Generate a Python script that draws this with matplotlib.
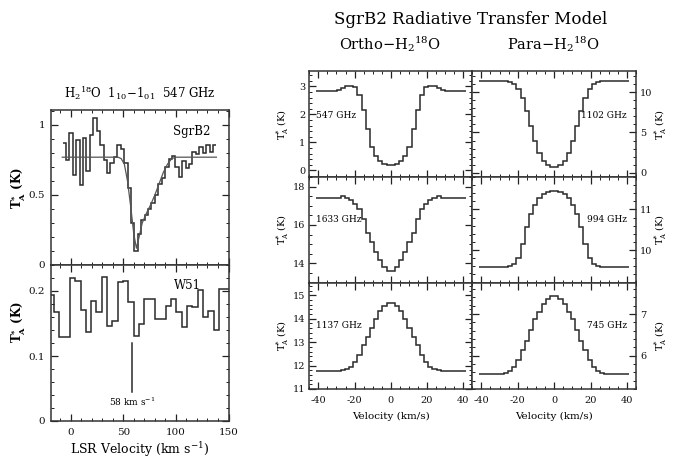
import numpy as np
import matplotlib
matplotlib.use('Agg')
import matplotlib.pyplot as plt
from matplotlib.ticker import MultipleLocator, FuncFormatter

plt.rcParams['font.family'] = ['DejaVu Serif']
plt.rcParams['mathtext.fontset'] = 'dejavuserif'

# ---------------- data ----------------
# SgrB2 observed spectrum (547 GHz), channel centres (km/s) and T_A* (K)
sgrb2_velocity = [-6.1, -2.85, 0.4, 3.65, 6.9, 10.15, 13.4, 16.65, 19.9, 23.15, 26.4, 29.65,
                  32.9, 36.15, 39.4, 42.65, 45.9, 49.15, 52.4, 55.65, 58.9, 62.15, 65.4, 68.65,
                  71.9, 75.15, 78.4, 81.65, 84.9, 88.15, 91.4, 94.65, 97.9, 101.15, 104.4, 107.65,
                  110.9, 114.15, 117.4, 120.65, 123.9, 127.15, 130.4, 133.65, 136.9]
sgrb2_temp = [0.87, 0.75, 0.94, 0.64, 0.89, 0.57, 0.91, 0.67, 0.93, 1.05, 0.96, 0.86,
              0.75, 0.655, 0.73, 0.77, 0.86, 0.83, 0.73, 0.55, 0.30, 0.10, 0.22, 0.32,
              0.36, 0.40, 0.44, 0.50, 0.58, 0.62, 0.70, 0.76, 0.78, 0.70, 0.63, 0.74,
              0.69, 0.72, 0.81, 0.79, 0.84, 0.80, 0.86, 0.81, 0.86]
sgrb2_chan = 3.25

# SgrB2 fitted profile
fit_velocity = [-8, 45, 48, 51, 54, 57, 60, 62.5, 65, 68, 72, 76, 80, 84, 88, 92, 96, 100, 138.5]
fit_temp = [0.77, 0.77, 0.76, 0.72, 0.60, 0.42, 0.22, 0.12, 0.20, 0.30, 0.37, 0.43, 0.50,
            0.58, 0.66, 0.72, 0.76, 0.77, 0.77]

# W51 spectrum
w51_velocity = [-18.5, -13.44, -8.38, -3.32, 1.74, 6.8, 11.86, 16.92, 21.98, 27.04, 32.1, 37.16,
                42.22, 47.28, 52.34, 57.4, 62.46, 67.52, 72.58, 77.64, 82.7, 87.76, 92.82, 97.88,
                102.94, 108.0, 113.06, 118.12, 123.18, 128.24, 133.3, 138.36, 143.42, 148.48]
w51_temp = [0.194, 0.168, 0.129, 0.129, 0.22, 0.216, 0.171, 0.137, 0.184, 0.167, 0.221, 0.146,
            0.154, 0.214, 0.215, 0.183, 0.131, 0.149, 0.188, 0.187, 0.157, 0.157, 0.177, 0.187,
            0.168, 0.144, 0.177, 0.175, 0.2015, 0.16, 0.17, 0.14, 0.2026, 0.2026]
w51_chan = 5.06
marker_velocity = 58
marker_range = (0.045, 0.12)

# Radiative transfer model spectra: channel edges (km/s) and T_A* (K)
model_edges = [-41.4, -39.1, -36.8, -34.5, -32.2, -29.9, -27.6, -25.3, -23.0, -20.7, -18.4, -16.1,
               -13.8, -11.5, -9.2, -6.9, -4.6, -2.3, 0.0, 2.3, 4.6, 6.9, 9.2, 11.5, 13.8, 16.1,
               18.4, 20.7, 23.0, 25.3, 27.6, 29.9, 32.2, 34.5, 36.8, 39.1, 41.4]
t547 = [2.83, 2.83, 2.83, 2.83, 2.84, 2.87, 2.93, 3.00, 3.02, 2.98, 2.69, 2.15, 1.46, 0.84, 0.51, 0.34, 0.24, 0.20,
        0.20, 0.24, 0.34, 0.51, 0.84, 1.46, 2.15, 2.69, 2.98, 3.02, 3.00, 2.93, 2.87, 2.84, 2.83, 2.83, 2.83, 2.83]
t1102 = [11.4, 11.4, 11.4, 11.4, 11.4, 11.4, 11.38, 11.3, 11.0, 10.4, 9.3, 7.6, 5.8, 3.9, 2.5, 1.5, 1.0, 0.78,
         0.78, 1.0, 1.5, 2.5, 3.9, 5.8, 7.6, 9.3, 10.4, 11.0, 11.3, 11.38, 11.4, 11.4, 11.4, 11.4, 11.4, 11.4]
t1633 = [17.39, 17.39, 17.39, 17.39, 17.39, 17.43, 17.5, 17.42, 17.3, 17.1, 16.85, 16.3, 15.6, 15.1, 14.6, 14.17, 13.82, 13.62,
         13.62, 13.82, 14.17, 14.6, 15.1, 15.6, 16.3, 16.85, 17.1, 17.3, 17.42, 17.5, 17.43, 17.39, 17.39, 17.39, 17.39, 17.39]
t994 = [9.57, 9.57, 9.57, 9.57, 9.57, 9.57, 9.58, 9.6, 9.66, 9.8, 10.16, 10.57, 10.9, 11.12, 11.28, 11.38, 11.44, 11.46,
        11.46, 11.44, 11.38, 11.28, 11.12, 10.9, 10.57, 10.16, 9.8, 9.66, 9.6, 9.58, 9.57, 9.57, 9.57, 9.57, 9.57, 9.57]
t1137 = [11.79, 11.79, 11.79, 11.79, 11.79, 11.79, 11.81, 11.86, 11.96, 12.14, 12.47, 12.86, 13.24, 13.62, 14.0, 14.33, 14.53, 14.69,
         14.69, 14.53, 14.33, 14.0, 13.62, 13.24, 12.86, 12.47, 12.14, 11.96, 11.86, 11.81, 11.79, 11.79, 11.79, 11.79, 11.79, 11.79]
t745 = [5.56, 5.56, 5.56, 5.56, 5.56, 5.56, 5.58, 5.63, 5.73, 5.89, 6.14, 6.36, 6.62, 6.88, 7.06, 7.25, 7.37, 7.44,
        7.44, 7.37, 7.25, 7.06, 6.88, 6.62, 6.36, 6.14, 5.89, 5.73, 5.63, 5.58, 5.56, 5.56, 5.56, 5.56, 5.56, 5.56]

# ---------------- figure ----------------
W, H = 673, 459
fig = plt.figure(figsize=(W / 100, H / 100), dpi=100)
LINE = '#2a2a2a'
gfmt = FuncFormatter(lambda v, p: '%g' % v)


def ax_px(x0, y0, x1, y1):
    return fig.add_axes([x0 / W, 1 - y1 / H, (x1 - x0) / W, (y1 - y0) / H])


def style(ax, xmaj, xmin, ymaj, ymin, size=7.5, pad=4):
    ax.xaxis.set_major_locator(MultipleLocator(xmaj))
    ax.xaxis.set_minor_locator(MultipleLocator(xmin))
    ax.yaxis.set_major_locator(MultipleLocator(ymaj))
    ax.yaxis.set_minor_locator(MultipleLocator(ymin))
    ax.xaxis.set_major_formatter(gfmt)
    ax.yaxis.set_major_formatter(gfmt)
    ax.tick_params(which='both', direction='in', top=True, right=True, labelsize=size,
                   color='#222222', labelcolor='#111111')
    ax.tick_params(which='major', length=5, width=0.9, pad=pad)
    ax.tick_params(which='minor', length=2.5, width=0.7)
    for s in ax.spines.values():
        s.set_linewidth(1.1)
        s.set_color('#333333')


def edges_from_centres(centres, width):
    c = np.asarray(centres, dtype=float)
    return np.append(c - width / 2, c[-1] + width / 2)


# ----- left: observations -----
axA = ax_px(50.7, 110, 228.5, 265)
axA.stairs(sgrb2_temp, edges_from_centres(sgrb2_velocity, sgrb2_chan), color=LINE, lw=1.1,
           baseline=None)
axA.plot(fit_velocity, fit_temp, color='#555555', lw=0.9)
axA.set_xlim(-19, 150)
axA.set_ylim(0, 1.107)
style(axA, 50, 10, 0.5, 0.1, pad=4)
axA.tick_params(labelbottom=False)
axA.text(114.8, 0.952, 'SgrB2', ha='center', va='center', fontsize=8.5)
axA.set_title(r'H$_2$$^{18}$O  1$_{10}$$-$1$_{01}$  547 GHz', fontsize=8.5, pad=9)

axB = ax_px(50.7, 265, 228.5, 421)
axB.stairs(w51_temp, edges_from_centres(w51_velocity, w51_chan), color=LINE, lw=1.1,
           baseline=None)
axB.plot([marker_velocity, marker_velocity], marker_range, color=LINE, lw=1.1)
axB.text(marker_velocity, 0.03, r'58 km s$^{-1}$', ha='center', va='center', fontsize=6.5)
axB.text(110.8, 0.209, 'W51', ha='center', va='center', fontsize=8.5)
axB.set_xlim(-19, 150)
axB.set_ylim(0, 0.24)
style(axB, 50, 10, 0.1, 0.02, pad=4)
axB.tick_params(axis='x', pad=5)
axB.set_xlabel(r'LSR Velocity (km s$^{-1}$)', fontsize=9, labelpad=2)

fig.text(18.5 / W, 1 - 188 / H, r'T$_\mathbf{A}^{\mathbf{*}}$ (K)', rotation=90, ha='center', va='center',
         fontsize=8.5, fontweight='bold')
fig.text(18.5 / W, 1 - 322 / H, r'T$_\mathbf{A}^{\mathbf{*}}$ (K)', rotation=90, ha='center', va='center',
         fontsize=8.5, fontweight='bold')

# ----- right: model -----
cols = [(309.3, 472.3), (472.3, 636)]
rows = [(71, 177), (177, 282.5), (282.5, 389)]
panels = [
    (0, 0, t547, (-0.24, 3.55), 1, 0.2, '547 GHz'),
    (0, 1, t1102, (-0.5, 12.6), 5, 1, '1102 GHz'),
    (1, 0, t1633, (13.0, 18.5), 2, 0.5, '1633 GHz'),
    (1, 1, t994, (9.2, 11.8), 1, 0.2, '994 GHz'),
    (2, 0, t1137, (11.0, 15.55), 1, 0.2, '1137 GHz'),
    (2, 1, t745, (5.2, 7.76), 1, 0.2, '745 GHz'),
]
label_y = {0: 115, 1: 220, 2: 325}
for r, c, vals, ylim, ymaj, ymin, lab in panels:
    x0, x1 = cols[c]
    y0, y1 = rows[r]
    ax = ax_px(x0, y0, x1, y1)
    ax.stairs(vals, model_edges, color=LINE, lw=1.1, baseline=None)
    ax.set_xlim(-45, 45)
    ax.set_ylim(*ylim)
    style(ax, 20, 5, ymaj, ymin, size=7, pad=3)
    if c == 1:
        ax.tick_params(labelleft=False, labelright=True)
    if r < 2:
        ax.tick_params(labelbottom=False)
    else:
        ax.tick_params(axis='x', pad=5)
        ax.set_xlabel('Velocity (km/s)', fontsize=7.5, labelpad=5)
    ty = 1 - (label_y[r] - y0) / (y1 - y0)
    if c == 0:
        ax.text(0.04, ty, lab, transform=ax.transAxes, ha='left', va='center', fontsize=6.5)
    else:
        ax.text(0.945, ty, lab, transform=ax.transAxes, ha='right', va='center', fontsize=6.5)
    xl = 283 if c == 0 else 661
    fig.text(xl / W, 1 - (y0 + y1) / 2 / H, r'T$_\mathrm{A}^{*}$ (K)', rotation=90,
             ha='center', va='center', fontsize=7)

fig.text(470.8 / W, 1 - 20 / H, 'SgrB2 Radiative Transfer Model', ha='center', va='center', fontsize=12)
fig.text(390 / W, 1 - 44 / H, r'Ortho$-$H$_2$$^{18}$O', ha='center', va='center', fontsize=10.5)
fig.text(553.3 / W, 1 - 44 / H, r'Para$-$H$_2$$^{18}$O', ha='center', va='center', fontsize=10.5)

fig.savefig('out.png', dpi=100)
